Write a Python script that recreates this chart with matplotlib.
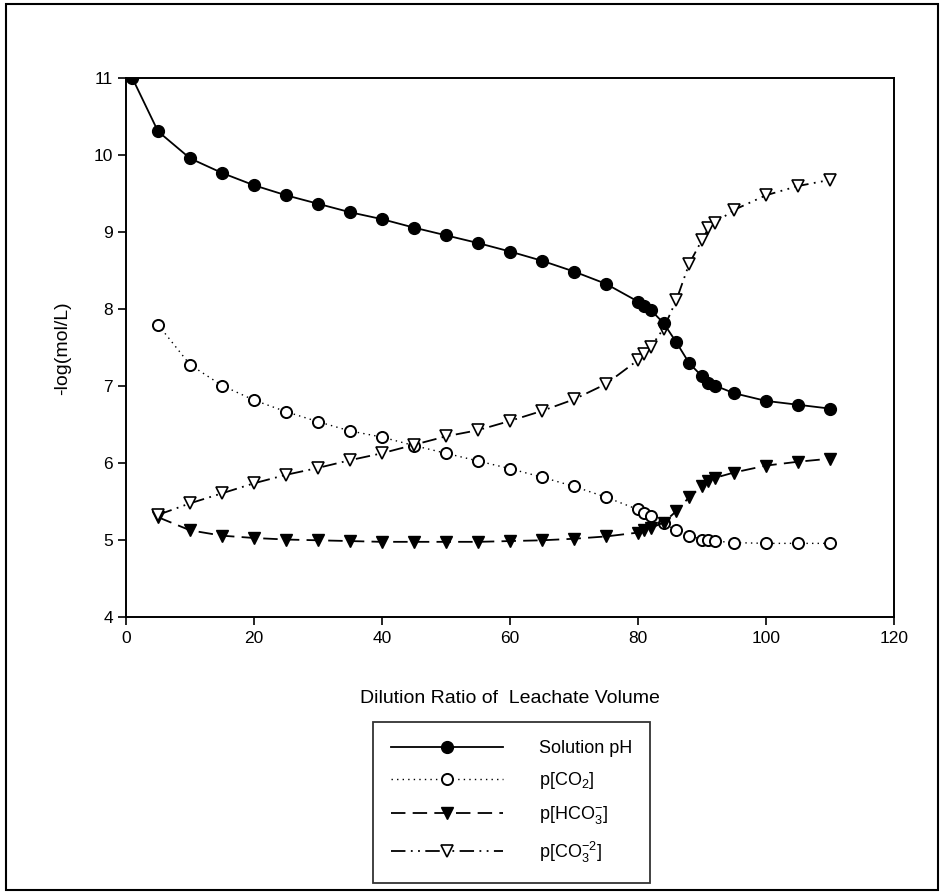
import matplotlib
matplotlib.use("Agg")
import matplotlib.pyplot as plt
from matplotlib.patches import Rectangle

plt.rcParams["font.family"] = ["Liberation Sans", "DejaVu Sans"]

# dilution ratios
x_ph = [1, 5, 10, 15, 20, 25, 30, 35, 40, 45, 50, 55, 60, 65, 70, 75,
        80, 81, 82, 84, 86, 88, 90, 91, 92, 95, 100, 105, 110]
x_sp = [5, 10, 15, 20, 25, 30, 35, 40, 45, 50, 55, 60, 65, 70, 75,
        80, 81, 82, 84, 86, 88, 90, 91, 92, 95, 100, 105, 110]

ph = [11.00, 10.31, 9.96, 9.77, 9.61, 9.48, 9.37, 9.26, 9.17, 9.06, 8.96,
      8.86, 8.75, 8.63, 8.49, 8.33, 8.10, 8.04, 7.99, 7.82, 7.57, 7.30,
      7.13, 7.04, 7.01, 6.91, 6.81, 6.76, 6.71]
p_co2 = [7.80, 7.28, 7.01, 6.82, 6.67, 6.54, 6.42, 6.34, 6.23, 6.13, 6.03,
         5.93, 5.82, 5.70, 5.56, 5.40, 5.35, 5.32, 5.22, 5.13, 5.06, 5.01,
         5.00, 4.99, 4.97, 4.96, 4.96, 4.96]
p_hco3 = [5.30, 5.13, 5.06, 5.03, 5.01, 5.00, 4.99, 4.98, 4.98, 4.98, 4.98,
          4.99, 5.00, 5.02, 5.05, 5.10, 5.13, 5.16, 5.23, 5.38, 5.56, 5.70,
          5.77, 5.81, 5.88, 5.97, 6.02, 6.06]
p_co3 = [5.33, 5.48, 5.61, 5.74, 5.85, 5.94, 6.04, 6.13, 6.24, 6.35, 6.43,
         6.55, 6.68, 6.83, 7.03, 7.34, 7.42, 7.51, 7.75, 8.12, 8.59, 8.90,
         9.05, 9.12, 9.29, 9.48, 9.60, 9.68]

labels = ["Solution pH",
          r"$\mathregular{p[CO_2]}$",
          r"$\mathregular{p[HCO_3^{-}]}$",
          r"$\mathregular{p[CO_3^{-2}]}$"]

fig = plt.figure(figsize=(9.44, 8.94), dpi=100)
ax = fig.add_axes([0.1335, 0.3095, 0.8135, 0.603])

ms = 8.5
ax.plot(x_ph, ph, color="black", lw=1.3, ls="-", marker="o", ms=ms,
        mfc="black", mec="black", label=labels[0], zorder=5)
ax.plot(x_sp, p_co2, color="black", lw=1.0, ls=(0, (1, 3)), marker="o",
        ms=ms - 0.5, mfc="white", mec="black", mew=1.4, label=labels[1])
ax.plot(x_sp, p_hco3, color="black", lw=1.3, ls=(0, (8, 4)), marker="v",
        ms=ms, mfc="black", mec="black", label=labels[2])
ax.plot(x_sp, p_co3, color="black", lw=1.3, ls=(0, (8, 3, 1, 3, 1, 3)),
        marker="v", ms=ms, mfc="white", mec="black", mew=1.2,
        label=labels[3])

ax.set_xlim(0, 120)
ax.set_ylim(4, 11)
ax.set_xticks(range(0, 121, 20))
ax.set_yticks(range(4, 12))
ax.tick_params(direction="out", length=6, width=1.2, labelsize=12.5,
               top=False, right=False)
for s in ax.spines.values():
    s.set_linewidth(1.4)

ax.set_xlabel("Dilution Ratio of  Leachate Volume", fontsize=14, labelpad=32)
ax.set_ylabel("-log(mol/L)", fontsize=14, labelpad=16)

leg = fig.legend(loc="upper left", bbox_to_anchor=(0.395, 0.192),
                 borderaxespad=0, fontsize=13, frameon=True, fancybox=False,
                 borderpad=1.0, labelspacing=0.72, handlelength=6.2,
                 handletextpad=2.0)
leg.get_frame().set_edgecolor("black")
leg.get_frame().set_linewidth(1.3)

# border round the whole picture
fig.patches.append(Rectangle((0.006, 0.005), 0.988, 0.99,
                             transform=fig.transFigure, fill=False,
                             edgecolor="black", lw=1.5))

fig.savefig("out.png", dpi=100)
